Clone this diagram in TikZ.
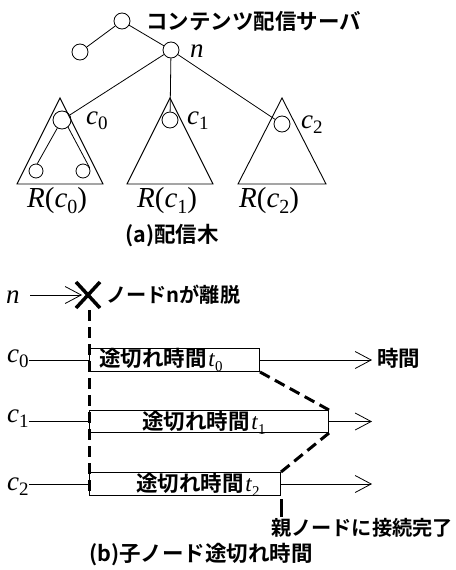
\documentclass[tikz,border=0pt]{standalone}
\usepackage{fontspec}
\setmainfont{Liberation Serif}
\newfontfamily\jp{Noto Sans CJK JP}[UprightFont={* Bold}]
\usetikzlibrary{arrows.meta}
\newcommand\ilab[4]{{\fontsize{#3}{#3}\selectfont\textit{#1}\raisebox{-0.22em}{\fontsize{#4}{#4}\selectfont #2}}}
\newcommand\jpt[1]{{\jp\fontsize{21.5}{22}\selectfont #1}}
\newcommand\jps[1]{{\jp\fontsize{20.2}{22}\selectfont #1}}
\newcommand\jpb[1]{{\jp\fontsize{21.5}{22}\selectfont #1}}
\begin{document}
\begin{tikzpicture}[x=1pt,y=-1pt,
  vtx/.style={circle,draw,line width=0.8pt,minimum size=16pt,inner sep=0pt},
  svtx/.style={circle,draw,line width=0.8pt,minimum size=14pt,inner sep=0pt},
  edge/.style={line width=0.8pt},
  tri/.style={line width=0.9pt},
  lbl/.style={inner sep=0pt,anchor=base west},
  txt/.style={inner sep=0pt},
  tbox/.style={draw,line width=1pt,minimum height=23pt,inner sep=0pt,anchor=north west},
  tl/.style={line width=0.8pt},
  arr/.style={line width=0.8pt,-{Straight Barb[length=16pt,width=17pt]}},
  thickdash/.style={line width=3pt,dash pattern=on 11pt off 6pt},
  cross/.style={line width=3.5pt}
]
\useasboundingbox (0,0) rectangle (455,570);
% ---------- (a) tree ----------
\node[vtx] (root) at (122,21) {};
\node[vtx] (lc) at (80,52) {};
\node[vtx] (n) at (171,50) {};
\node[vtx,minimum size=18pt] (c0) at (62,120) {};
\node[vtx] (c1) at (170,120) {};
\node[vtx] (c2) at (282,124) {};
\node[svtx] (s1) at (36,171) {};
\node[svtx] (s2) at (83,171) {};
\draw[tri] (60,98) -- (17,184) -- (103,184) -- cycle;
\draw[tri] (170,98) -- (127,184) -- (213,184) -- cycle;
\draw[tri] (282,98) -- (238,184) -- (326,184) -- cycle;
\draw[edge] (root) -- (lc);
\draw[edge] (root) -- (n);
\draw[edge] (n) -- (c0);
\draw[edge] (n) -- (c1);
\draw[edge] (n) -- (c2);
\draw[edge] (c0.-120) -- (s1.80);
\draw[edge] (c0.-50) -- (s2.25);
\node[txt,anchor=west] (title) at (146,21) {\jpt{コンテンツ配信サーバ}};
\node[lbl] (nl) at (190,57) {\fontsize{27}{27}\selectfont\textit{n}};
\node[lbl] (c0l) at (86,124) {\ilab{c}{0}{27}{19}};
\node[lbl] (c1l) at (187,124) {\ilab{c}{1}{27}{19}};
\node[lbl] (c2l) at (301,128) {\ilab{c}{2}{27}{19}};
\node[lbl] (r0) at (27,207) {\fontsize{29}{29}\selectfont\textit{R}(\ilab{c}{0}{29}{20})};
\node[lbl] (r1) at (137,207) {\fontsize{29}{29}\selectfont\textit{R}(\ilab{c}{1}{29}{20})};
\node[lbl] (r2) at (239,207) {\fontsize{29}{29}\selectfont\textit{R}(\ilab{c}{2}{29}{20})};
\node[txt] (capa) at (172,236) {\jpt{(a)配信木}};
% ---------- (b) timeline ----------
\node[lbl] (nb) at (6,303) {\fontsize{27}{27}\selectfont\textit{n}};
\coordinate (nstart) at (30,295);
\coordinate (xtip) at (82,295);
\draw[arr] (nstart) -- (xtip);
\draw[cross] (76,282) -- (100,308) (100,282) -- (76,308);
\node[txt,anchor=west] (leave) at (106,295) {\jps{ノードnが離脱}};
\node[tbox,minimum width=170pt] (b0) at (89,348) {};
\node[tbox,minimum width=239pt,minimum height=22pt] (b1) at (89,410) {};
\node[tbox,minimum width=191pt] (b2) at (89,472) {};
\node[lbl] (t0) at (99,366) {\jpb{途切れ時間}\,\ilab{t}{0}{23}{15}};
\node[lbl] (t1) at (142,429) {\jpb{途切れ時間}\,\ilab{t}{1}{23}{15}};
\node[lbl] (t2) at (136,491) {\jpb{途切れ時間}\,\ilab{t}{2}{23}{15}};
\node[lbl] (l0) at (7,362) {\ilab{c}{0}{27}{19}};
\node[lbl] (l1) at (7,422) {\ilab{c}{1}{27}{19}};
\node[lbl] (l2) at (7,490) {\ilab{c}{2}{27}{19}};
\draw[tl] (l0.east |- b0.west) -- (b0.west);
\draw[tl] (l1.east |- b1.west) -- (b1.west);
\draw[tl] (l2.east |- b2.west) -- (b2.west);
\coordinate (tend) at (372,0);
\draw[arr] (b0.east) -- (b0.east -| tend);
\draw[arr] (b1.east) -- (b1.east -| tend);
\draw[arr] (b2.east) -- (b2.east -| tend);
\node[txt,anchor=west] (time) at (377,358) {\jpt{時間}};
\draw[thickdash] (b0.south east) -- (b1.north east);
\draw[thickdash] (b2.north east) -- (b1.south east);
\coordinate (xb) at (89,310);
\draw[thickdash] (xb) -- (xb |- b2.south);
\coordinate (m1) at (281,499);
\coordinate (m2) at (281,517);
\draw[line width=3pt] (m1) -- (m2);
\node[txt,anchor=east] (done) at (453,528) {\jps{親ノードに接続完了}};
\node[txt] (capb) at (201,555) {\jpt{(b)子ノード途切れ時間}};
\end{tikzpicture}
\end{document}
